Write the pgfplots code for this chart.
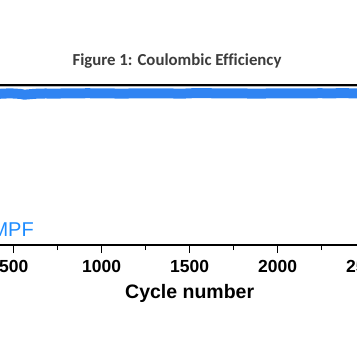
\documentclass[border=0pt]{standalone}
\usepackage{pgfplots}
\pgfplotsset{compat=1.18}
\usepackage{fontspec}
\setmainfont{Liberation Sans}
\newfontfamily\calibri[Ligatures=NoCommon]{Carlito}
\definecolor{ceblue}{RGB}{48,132,242}
\definecolor{mpfblue}{RGB}{30,140,255}
\definecolor{titlegray}{RGB}{60,60,60}
\begin{document}
\begin{tikzpicture}
\begin{axis}[
  at={(-74.3pt,119pt)}, anchor=south west,
  scale only axis, width=528pt, height=160pt,
  xmin=0, xmax=3000, ymin=0, ymax=105.6,
  xtick={0,500,...,3000}, minor x tick num=1,
  xtick pos=bottom, ytick=\empty,
  tick align=outside,
  major tick length=8pt, minor tick length=5pt,
  every tick/.style={black, line width=1.3pt},
  axis line style={line width=1.3pt},
  /pgf/number format/assume math mode=true,
  /pgf/number format/set thousands separator={},
  xticklabel style={font=\fontsize{17.5}{19}\selectfont\bfseries, inner sep=0pt, yshift=-7pt},
  xlabel={Cycle number},
  xlabel style={font=\fontsize{19.5}{22}\selectfont\bfseries, at={(axis description cs:0.5,0)}, anchor=north, inner sep=0pt, yshift=-39pt},
  clip=false,
]
\draw[gray!60, line width=0.6pt] (axis cs:0,104.6) -- (axis cs:3000,104.6);
\addplot[ceblue, line width=10pt, line join=round] coordinates {
(1,100.4) (60,100.2) (120,100.3) (180,100.0) (240,100.2) (300,99.9) (360,100.1) (420,99.8)
(480,100.1) (540,99.7) (560,99.2) (620,99.8) (680,100.0) (740,99.9) (800,100.1) (860,100.0)
(920,100.2) (980,100.0) (1040,100.1) (1100,99.9) (1160,100.0) (1220,100.1) (1280,100.0) (1340,100.1)
(1400,100.0) (1460,99.9) (1520,100.2) (1580,100.3) (1640,100.1) (1700,100.0) (1760,100.1) (1820,100.0)
(1880,99.9) (1940,100.0) (2000,100.1) (2060,100.0) (2120,100.1) (2180,100.0) (2240,100.2) (2300,100.0)
(2360,100.3) (2420,100.1) (2480,100.2) (2540,100.0) (2600,100.1)
};
\end{axis}
\node[titlegray, font=\calibri\fontsize{16.8}{18}\selectfont\bfseries, anchor=base] at (177pt,298pt) {Figure 1: Coulombic Efficiency};
\node[mpfblue, font=\fontsize{20}{22}\selectfont, anchor=base east, inner sep=0pt] at (34pt,127pt) {MPF};
\pgfresetboundingbox
\useasboundingbox (0pt,0pt) rectangle (356pt,364pt);
\end{tikzpicture}
\end{document}
